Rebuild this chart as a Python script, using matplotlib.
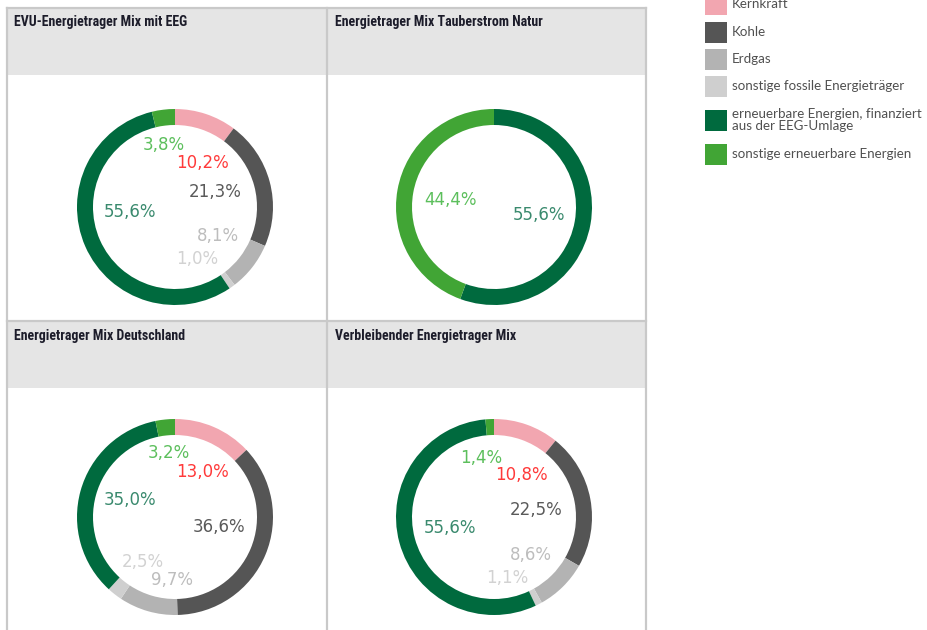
import matplotlib
matplotlib.use("Agg")
import matplotlib.pyplot as plt
from matplotlib.patches import Rectangle
from matplotlib import font_manager

# ---------------- data ----------------
categories = ["Kernkraft", "Kohle", "Erdgas", "sonstige fossile Energieträger",
              "erneuerbare Energien, finanziert\naus der EEG-Umlage",
              "sonstige erneuerbare Energien"]
titles = ["EVU-Energietrager Mix mit EEG", "Energietrager Mix Tauberstrom Natur",
          "Energietrager Mix Deutschland", "Verbleibender Energietrager Mix"]
mix_evu = [10.2, 21.3, 8.1, 1.0, 55.6, 3.8]
mix_natur = [0.0, 0.0, 0.0, 0.0, 55.6, 44.4]
mix_de = [13.0, 36.6, 9.7, 2.5, 35.0, 3.2]
mix_rest = [10.8, 22.5, 8.6, 1.1, 55.6, 1.4]
mixes = [mix_evu, mix_natur, mix_de, mix_rest]

# ---------------- style / layout ----------------
slice_colors = ["#f2a6b0", "#555555", "#b3b3b3", "#cfcfcf", "#006a3e", "#41a535"]
label_colors = ["#ff3a3a", "#5a5a5a", "#bdbdbd", "#d2d2d2", "#3a8a6e", "#5cbf5c"]
W, H = 927, 630
R = 98          # outer radius in px
RING = 16       # ring thickness in px
centers = [(175, 207), (494, 207), (175, 517), (494, 517)]
title_pos = [(14, 22), (335, 22), (14, 336), (335, 336)]
# label anchor positions in normalised donut units (x right, y up)
label_xy = [
    [(0.28, 0.45), (0.41, 0.15), (0.44, -0.30), (0.23, -0.53), (-0.46, -0.05), (-0.11, 0.63)],
    [None, None, None, None, (0.46, -0.08), (-0.44, 0.07)],
    [(0.28, 0.46), (0.45, -0.10), (-0.03, -0.64), (-0.33, -0.46), (-0.46, 0.17), (-0.06, 0.65)],
    [(0.28, 0.43), (0.43, 0.07), (0.38, -0.39), (0.14, -0.62), (-0.45, -0.11), (-0.13, 0.60)],
]

available = {f.name for f in font_manager.fontManager.ttflist}
title_family = None
for cand in ["Liberation Sans Narrow", "DejaVu Sans Condensed", "Roboto Condensed"]:
    if cand in available:
        title_family = cand
        break
if title_family is None:
    title_family = "Liberation Sans"
    title_size = 8.6
else:
    title_size = 10.0

fig = plt.figure(figsize=(W / 100, H / 100), dpi=100)
bg = fig.add_axes([0, 0, 1, 1])
bg.set_xlim(0, W)
bg.set_ylim(H, 0)
bg.axis("off")

# table
line_c = "#c9c9c9"
hdr_c = "#e5e5e5"
left, right, top, mid_x, mid_y = 7, 646, 8, 327, 321
for y0, y1 in [(top, 75), (mid_y, 388)]:
    bg.add_patch(Rectangle((left, y0), right - left, y1 - y0, facecolor=hdr_c, edgecolor="none"))
bg.plot([left, right], [top, top], color=line_c, lw=1.6)
bg.plot([left, right], [mid_y, mid_y], color=line_c, lw=1.6)
bg.plot([left, left], [top, H], color=line_c, lw=1.6)
bg.plot([right, right], [top, H], color=line_c, lw=1.6)
bg.plot([mid_x, mid_x], [top, H], color=line_c, lw=1.6)

for (tx, ty), t in zip(title_pos, titles):
    bg.text(tx, ty, t, family=[title_family, "DejaVu Sans"], fontweight="bold",
            fontsize=title_size, color="#1c1c2a", ha="left", va="center")

# legend
leg_x, leg_tx = 705, 732
leg_y = [4, 32, 59, 86, 120, 154]
for yc, c, lab in zip(leg_y, slice_colors, categories):
    bg.add_patch(Rectangle((leg_x, yc - 10.5), 22, 21, facecolor=c, edgecolor="none"))
    bg.text(leg_tx, yc, lab, family=["Lato", "DejaVu Sans"], fontsize=9.6,
            color="#505050", ha="left", va="center", linespacing=0.95)

# donuts
for idx, (vals, (cx, cy)) in enumerate(zip(mixes, centers)):
    ax = fig.add_axes([(cx - R) / W, 1 - (cy + R) / H, 2 * R / W, 2 * R / H])
    ax.pie(vals, colors=slice_colors, startangle=90, counterclock=False, radius=1,
           wedgeprops=dict(width=RING / R, edgecolor="none", linewidth=0))
    ax.set_xlim(-1, 1)
    ax.set_ylim(-1, 1)
    ax.axis("off")
    for v, pos, lc in zip(vals, label_xy[idx], label_colors):
        if v <= 0 or pos is None:
            continue
        txt = f"{v:.1f}".replace(".", ",") + "%"
        ax.text(pos[0], pos[1], txt, fontsize=12, color=lc, ha="center", va="center",
                family="DejaVu Sans")

fig.savefig("out.png", dpi=100)
